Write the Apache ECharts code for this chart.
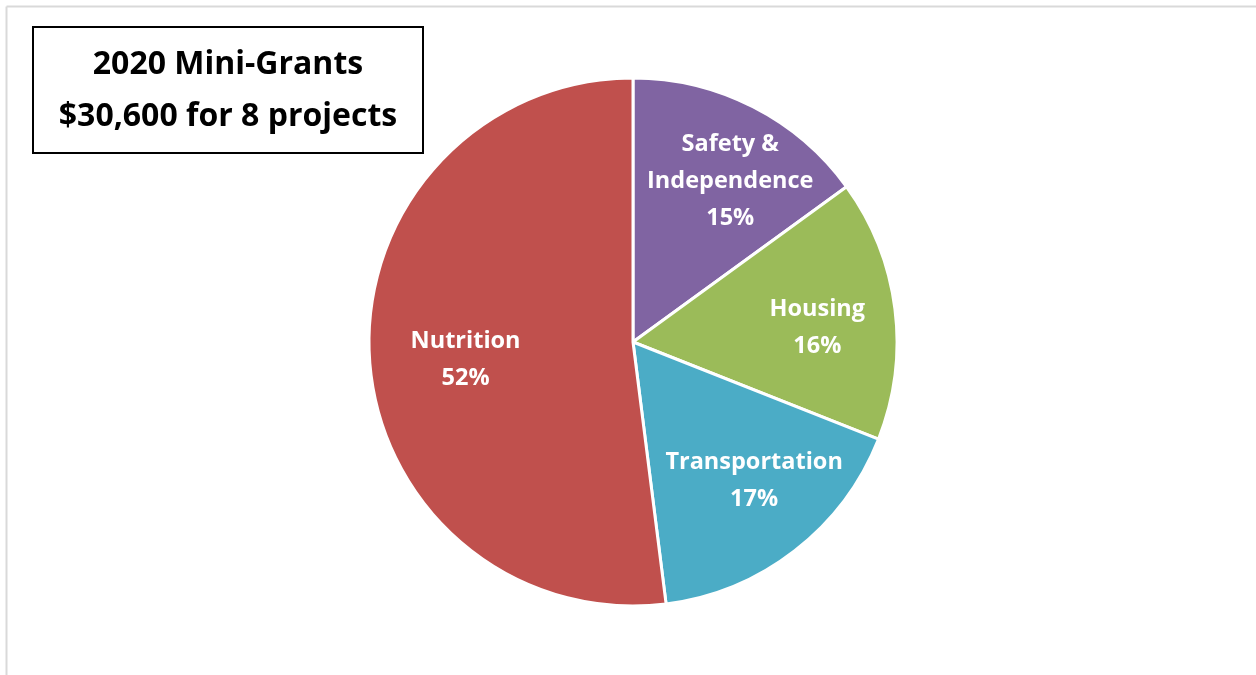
<!DOCTYPE html>
<html>
<head>
<meta charset="utf-8">
<script src="https://cdn.jsdelivr.net/npm/echarts@6/dist/echarts.min.js"></script>
<style>
html,body{margin:0;padding:0;background:#fff;}
#chart{width:1256px;height:675px;}
</style>
</head>
<body>
<div id="chart"></div>
<script>
const categories = ['Safety &\nIndependence', 'Housing', 'Transportation', 'Nutrition'];
const values = [15, 16, 17, 52];
const colors = ['#8064A2', '#9BBB59', '#4BACC6', '#C0504D'];
const titleLines = ['2020 Mini-Grants', '$30,600 for 8 projects'];
const labelNudge = [[12, 7], [-2, 9], [6, -10], [20, 6]];

const data = categories.map((c, i) => ({ name: c, value: values[i], itemStyle: { color: colors[i] } }));
const labelData = categories.map((c, i) => ({ name: c, value: values[i] }));

const chart = echarts.init(document.getElementById('chart'));
const R = 264;
const center = [633, 342];
chart.setOption({
  backgroundColor: '#fff',
  animation: false,
  graphic: [
    { type: 'line', shape: { x1: 6.5, y1: 6.5, x2: 1256, y2: 6.5 }, style: { stroke: '#d9d9d9', lineWidth: 2 } },
    { type: 'line', shape: { x1: 6.5, y1: 6.5, x2: 6.5, y2: 675 }, style: { stroke: '#d9d9d9', lineWidth: 2 } },
    { type: 'rect', shape: { x: 33, y: 27, width: 390, height: 126 }, style: { fill: '#fff', stroke: '#000', lineWidth: 2 }, z: 10 },
    { type: 'text', x: 228, y: 91, z: 11,
      style: { text: titleLines.join('\n'), fill: '#000', font: 'bold 32px "Open Sans"', align: 'center', verticalAlign: 'middle', lineHeight: 52 } }
  ],
  series: [
    {
      type: 'pie',
      center: center,
      radius: [0, R],
      startAngle: 90,
      clockwise: true,
      silent: true,
      label: { show: false },
      labelLine: { show: false },
      itemStyle: { borderColor: '#fff', borderWidth: 3 },
      data: data
    },
    {
      type: 'pie',
      center: center,
      radius: [R * 0.4, R],
      startAngle: 90,
      clockwise: true,
      silent: true,
      z: 5,
      itemStyle: { color: 'rgba(0,0,0,0)', borderWidth: 0 },
      label: {
        show: true,
        position: 'inside',
        formatter: p => p.name + '\n' + p.value + '%',
        color: '#fff',
        fontFamily: 'Open Sans',
        fontWeight: 'bold',
        fontSize: 23.5,
        lineHeight: 37,
        align: 'center'
      },
      labelLayout: p => ({ dx: labelNudge[p.dataIndex][0], dy: labelNudge[p.dataIndex][1] }),
      labelLine: { show: false },
      data: labelData
    }
  ]
});
</script>
</body>
</html>
